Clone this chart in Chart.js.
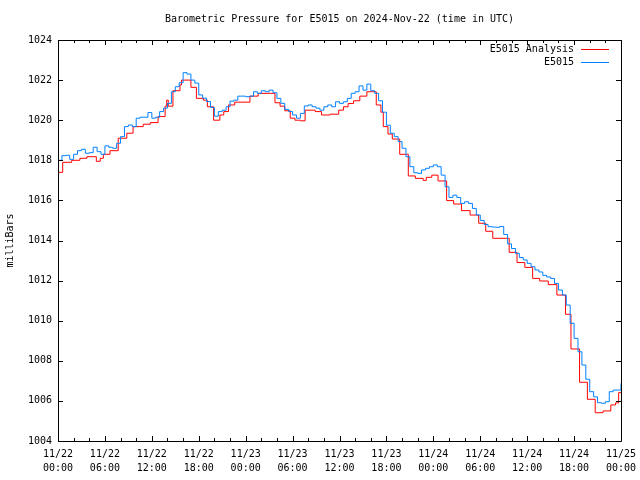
<!DOCTYPE html>
<html>
<head>
<meta charset="utf-8">
<script src="https://cdn.jsdelivr.net/npm/chart.js@4"></script>
<style>
  body { margin: 0; background: #fff; }
  canvas { display: block; }
</style>
</head>
<body>
<canvas id="pressureChart" width="640" height="480"></canvas>
<script>
// hours since 11/22 00:00 UTC, millibars
const redHours = [0, 0.6, 1.75, 2.8, 3.7, 4.9, 5.4, 5.8, 6.65, 7.7, 8.8, 9.6, 10.9, 11.8, 12.8, 13.7, 13.9, 14.1, 14.7, 15.6,
    15.8, 17.0, 17.7, 18.6, 19.1, 19.9, 20.7, 21.2, 21.8, 22.6, 24.55, 25.6, 27.75, 28.4, 29.0, 29.7, 30.3, 31.0, 31.6, 32.9,
    33.7, 34.8, 35.9, 36.5, 37.1, 37.8, 38.6, 39.5, 40.7, 41.3, 41.6, 42.2, 42.75, 43.7, 44.8, 45.7, 46.7, 47.1, 47.8, 48.6,
    49.7, 50.6, 51.6, 52.7, 53.8, 54.7, 55.6, 57.7, 58.7, 59.7, 60.7, 61.6, 62.7, 63.8, 64.9, 65.6, 66.7, 67.7, 68.7, 69.7,
    70.7, 71.3, 71.7, 72];
const redValues = [1017.4, 1017.9, 1018.0, 1018.1, 1018.18, 1017.95, 1018.1, 1018.3, 1018.48, 1019.1, 1019.35, 1019.68, 1019.8, 1019.88, 1020.18, 1020.7, 1021.0, 1020.7, 1021.47, 1021.76,
    1022.0, 1021.64, 1021.09, 1021.0, 1020.67, 1020.0, 1020.26, 1020.43, 1020.76, 1020.9, 1021.2, 1021.34, 1020.87, 1020.7, 1020.47, 1020.1, 1020.0, 1019.97, 1020.5, 1020.43,
    1020.26, 1020.3, 1020.5, 1020.67, 1020.83, 1020.97, 1021.2, 1021.42, 1020.76, 1020.4, 1019.68, 1019.31, 1019.06, 1018.3, 1017.22, 1017.1, 1017.0, 1017.15, 1017.26, 1016.97,
    1015.99, 1015.82, 1015.49, 1015.27, 1014.86, 1014.46, 1014.11, 1013.41, 1012.9, 1012.66, 1012.11, 1011.98, 1011.8, 1011.28, 1010.32, 1008.59, 1006.93, 1006.08, 1005.41, 1005.5,
    1005.8, 1005.9, 1006.41, 1006.41];

// observed, every half hour from 11/22 00:00
const blueValues = [
    1018.0, 1018.23, 1018.25, 1018.05, 1018.3, 1018.48, 1018.55, 1018.35, 1018.38, 1018.65, 1018.43, 1018.3,
    1018.72, 1018.65, 1018.6, 1018.85, 1019.18, 1019.68, 1019.76, 1019.68, 1020.1, 1020.15, 1020.15, 1020.38,
    1020.1, 1020.15, 1020.43, 1020.6, 1020.84, 1021.42, 1021.67, 1021.87, 1022.37, 1022.3, 1022.0, 1021.85,
    1021.26, 1021.1, 1020.93, 1020.64, 1020.2, 1020.43, 1020.5, 1020.67, 1020.95, 1021.0, 1021.2, 1021.2,
    1021.17, 1021.2, 1021.42, 1021.34, 1021.47, 1021.42, 1021.5, 1021.37, 1021.09, 1020.84, 1020.54, 1020.43,
    1020.26, 1020.1, 1020.34, 1020.71, 1020.76, 1020.67, 1020.6, 1020.5, 1020.67, 1020.76, 1020.67, 1020.92,
    1020.84, 1020.92, 1021.09, 1021.34, 1021.42, 1021.71, 1021.5, 1021.8, 1021.47, 1021.34, 1020.97, 1020.4,
    1019.75, 1019.35, 1019.18, 1018.93, 1018.6, 1018.18, 1017.68, 1017.38, 1017.35, 1017.52, 1017.6, 1017.68,
    1017.77, 1017.68, 1017.26, 1016.68, 1016.15, 1016.26, 1016.15, 1015.85, 1015.93, 1015.85, 1015.6, 1015.27,
    1015.0, 1014.8, 1014.69, 1014.67, 1014.66, 1014.7, 1014.3, 1013.83, 1013.6, 1013.36, 1013.15, 1013.03,
    1012.86, 1012.69, 1012.53, 1012.43, 1012.26, 1012.18, 1012.11, 1011.86, 1011.53, 1011.28, 1010.78, 1009.87,
    1009.12, 1008.45, 1007.79, 1007.08, 1006.46, 1006.2, 1005.91, 1005.88, 1005.96, 1006.46, 1006.54, 1006.54,
    1006.88];

const tickDates = ['11/22', '11/22', '11/22', '11/22', '11/23', '11/23', '11/23', '11/23', '11/24', '11/24', '11/24', '11/24', '11/25'];
const tickTimes = ['00:00', '06:00', '12:00', '18:00', '00:00', '06:00', '12:00', '18:00', '00:00', '06:00', '12:00', '18:00', '00:00'];

const FONT = "'DejaVu Sans Mono', monospace";

// gnuplot-ish frame, inward ticks, title and key
const framePlugin = {
    id: 'frame',
    afterDraw(chart) {
        const ctx = chart.ctx;
        const a = chart.chartArea;
        const x = chart.scales.x, y = chart.scales.y;
        ctx.save();
        ctx.strokeStyle = '#000';
        ctx.lineWidth = 1;
        ctx.beginPath();
        ctx.rect(a.left + 0.5, a.top + 0.5, a.right - a.left, a.bottom - a.top);
        for (let h = 0; h <= 72; h += 2) {
            const px = Math.round(x.getPixelForValue(h)) + 0.5;
            const len = h % 6 === 0 ? 5 : 3;
            ctx.moveTo(px, a.bottom); ctx.lineTo(px, a.bottom - len);
            ctx.moveTo(px, a.top); ctx.lineTo(px, a.top + len);
        }
        for (let v = 1004; v <= 1024; v += 2) {
            const py = Math.round(y.getPixelForValue(v)) + 0.5;
            ctx.moveTo(a.left, py); ctx.lineTo(a.left + 5, py);
            ctx.moveTo(a.right, py); ctx.lineTo(a.right - 5, py);
        }
        ctx.stroke();

        ctx.fillStyle = '#000';
        ctx.font = '10px ' + FONT;
        ctx.textAlign = 'center';
        ctx.textBaseline = 'middle';
        ctx.fillText('Barometric Pressure for E5015 on 2024-Nov-22 (time in UTC)', (a.left + a.right) / 2, 19);

        ctx.textAlign = 'right';
        chart.data.datasets.forEach((ds, i) => {
            const ky = 49 + i * 13;
            ctx.fillStyle = '#000';
            ctx.fillText(ds.label, 574, ky);
            ctx.strokeStyle = ds.borderColor;
            ctx.beginPath();
            ctx.moveTo(581, ky + 0.5);
            ctx.lineTo(609, ky + 0.5);
            ctx.stroke();
        });
        ctx.restore();
    }
};

const ctx = document.getElementById('pressureChart').getContext('2d');

const pressureChart = new Chart(ctx, {
    type: 'line',
    data: {
        datasets: [{
            label: 'E5015 Analysis',
            data: redHours.map((h, i) => ({ x: h, y: redValues[i] })),
            borderColor: '#ff0000',
            borderWidth: 1,
            pointRadius: 0,
            stepped: true,
            order: 1
        }, {
            label: 'E5015',
            data: blueValues.map((v, i) => ({ x: i * 0.5, y: v })),
            borderColor: '#0080ff',
            borderWidth: 1,
            pointRadius: 0,
            stepped: true,
            order: 0
        }]
    },
    options: {
        responsive: false,
        animation: false,
        layout: { padding: { top: 40, right: 19, left: 0, bottom: 0 } },
        plugins: {
            legend: { display: false },
            tooltip: { enabled: false }
        },
        scales: {
            x: {
                type: 'linear',
                min: 0,
                max: 72,
                afterFit: s => { s.height = 39; s.paddingLeft = 0; s.paddingRight = 0; },
                grid: { display: false, drawTicks: false },
                border: { display: false },
                ticks: {
                    stepSize: 6,
                    padding: 6,
                    autoSkip: false,
                    maxRotation: 0,
                    color: '#000',
                    font: { family: FONT, size: 10, lineHeight: 1.4 },
                    callback: (v) => {
                        const k = Math.round(v / 6);
                        return [tickDates[k], tickTimes[k]];
                    }
                }
            },
            y: {
                min: 1004,
                max: 1024,
                afterFit: s => { s.width = 58; },
                grid: { display: false, drawTicks: false },
                border: { display: false },
                ticks: {
                    stepSize: 2,
                    padding: 6,
                    color: '#000',
                    font: { family: FONT, size: 10 },
                    callback: v => String(v)
                },
                title: {
                    display: true,
                    text: 'milliBars',
                    color: '#000',
                    padding: { top: 4, bottom: 0 },
                    font: { family: FONT, size: 10 }
                }
            }
        }
    },
    plugins: [framePlugin]
});
</script>
</body>
</html>
